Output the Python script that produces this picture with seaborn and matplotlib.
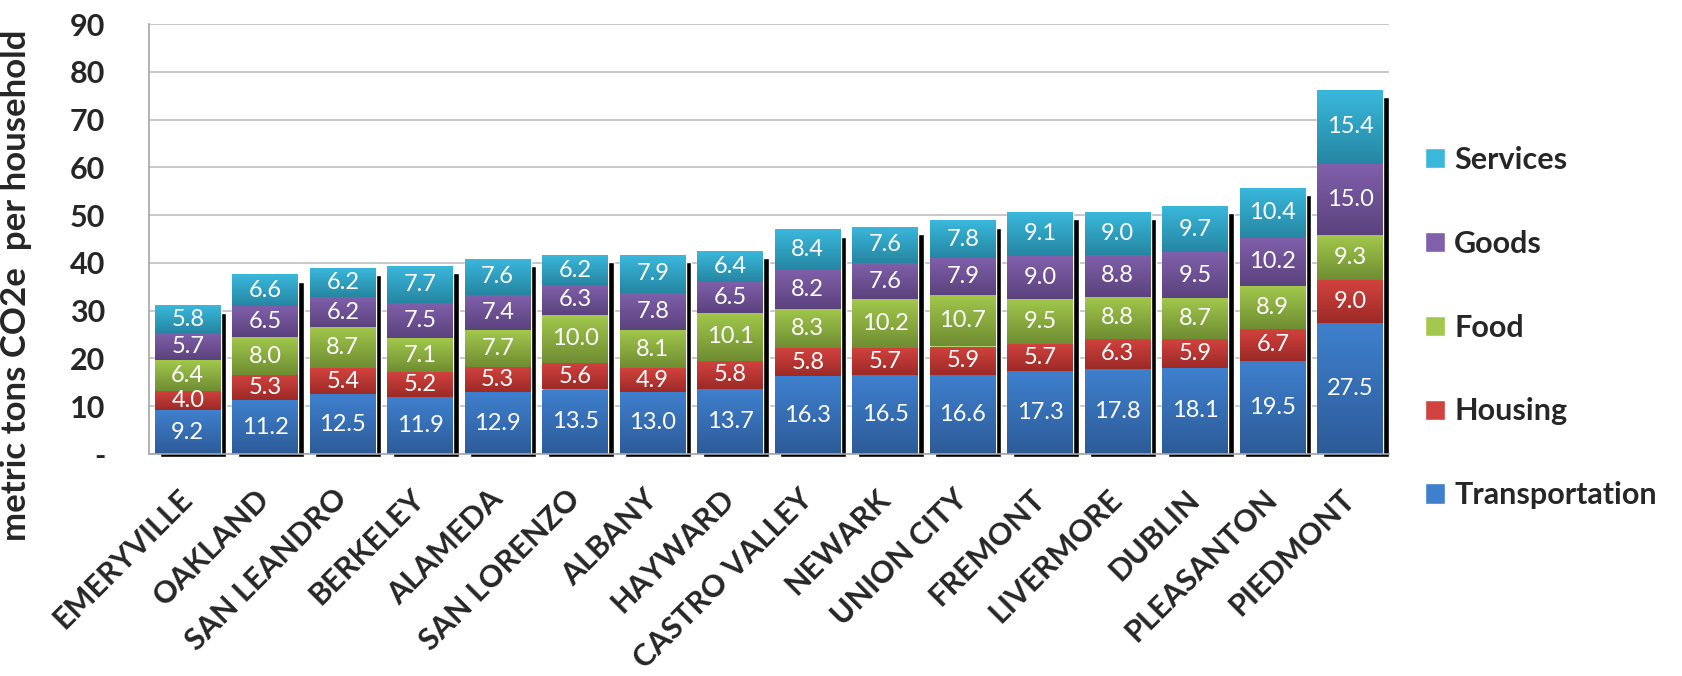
import numpy as np
import pandas as pd
import seaborn as sns
import matplotlib
matplotlib.use("Agg")
import matplotlib.pyplot as plt
from matplotlib.colors import LinearSegmentedColormap
from matplotlib.transforms import ScaledTranslation

cities = ["EMERYVILLE", "OAKLAND", "SAN LEANDRO", "BERKELEY", "ALAMEDA",
          "SAN LORENZO", "ALBANY", "HAYWARD", "CASTRO VALLEY", "NEWARK",
          "UNION CITY", "FREMONT", "LIVERMORE", "DUBLIN", "PLEASANTON", "PIEDMONT"]

transportation = [9.2, 11.2, 12.5, 11.9, 12.9, 13.5, 13.0, 13.7, 16.3, 16.5, 16.6, 17.3, 17.8, 18.1, 19.5, 27.5]
housing = [4.0, 5.3, 5.4, 5.2, 5.3, 5.6, 4.9, 5.8, 5.8, 5.7, 5.9, 5.7, 6.3, 5.9, 6.7, 9.0]
food = [6.4, 8.0, 8.7, 7.1, 7.7, 10.0, 8.1, 10.1, 8.3, 10.2, 10.7, 9.5, 8.8, 8.7, 8.9, 9.3]
goods = [5.7, 6.5, 6.2, 7.5, 7.4, 6.3, 7.8, 6.5, 8.2, 7.6, 7.9, 9.0, 8.8, 9.5, 10.2, 15.0]
services = [5.8, 6.6, 6.2, 7.7, 7.6, 6.2, 7.9, 6.4, 8.4, 7.6, 7.8, 9.1, 9.0, 9.7, 10.4, 15.4]

series = ["Transportation", "Housing", "Food", "Goods", "Services"]
y_ticks = [0, 10, 20, 30, 40, 50, 60, 70, 80, 90]
y_tick_labels = ["-", "10", "20", "30", "40", "50", "60", "70", "80", "90"]

# (top colour, bottom colour) of the vertical gradient in each segment
shades = {
    "Transportation": ("#3F80CE", "#2D5B98"),
    "Housing": ("#D2423E", "#9C2A27"),
    "Food": ("#A2C84C", "#6F8D32"),
    "Goods": ("#8060AB", "#5B427D"),
    "Services": ("#3AB8DC", "#2586A2"),
}

df = pd.DataFrame({"City": cities, "Transportation": transportation, "Housing": housing,
                   "Food": food, "Goods": goods, "Services": services})
totals = df[series].sum(axis=1).values

sns.set_style("white")
plt.rcParams["font.family"] = ["Lato", "DejaVu Sans"]

fig = plt.figure(figsize=(16.82, 6.76), dpi=100)
ax = fig.add_axes([149 / 1682, 222 / 676, 1240 / 1682, 430 / 676])

# drop shadow behind every stack
sns.barplot(x=df["City"], y=totals - 0.9, bottom=-0.6, color="black", width=0.85,
            saturation=1, errorbar=None, ax=ax, zorder=1.5)
shadow = ax.containers[0]
offset = ax.transData + ScaledTranslation(0.055, 0, fig.dpi_scale_trans)
for p in shadow.patches:
    p.set_transform(offset)
    p.set_clip_on(False)

bottom = np.zeros(len(cities))
segments = []
for name in series:
    vals = df[name].values
    sns.barplot(x=df["City"], y=vals, bottom=bottom, color=shades[name][0], width=0.85,
                saturation=1, errorbar=None, ax=ax, label=name, zorder=2)
    segments.append((name, ax.containers[-1]))
    bottom = bottom + vals

for name, cont in segments:
    top_c, bot_c = shades[name]
    cmap = LinearSegmentedColormap.from_list(name, [bot_c, top_c])
    for p in cont.patches:
        x0, y0, w, h = p.get_x(), p.get_y(), p.get_width(), p.get_height()
        grad = np.linspace(1, 0, 64).reshape(-1, 1)
        im = ax.imshow(grad, cmap=cmap, extent=(x0, x0 + w, y0, y0 + h), aspect="auto",
                       origin="upper", interpolation="bicubic", zorder=2.5)
        im.set_clip_path(p)
    ax.bar_label(cont, fmt="%.1f", label_type="center", color="white", fontsize=17, zorder=4)

if ax.get_legend() is not None:
    ax.get_legend().remove()

ax.set_xlim(-0.5, len(cities) - 0.5)
ax.set_ylim(0, 90)
ax.set_yticks(y_ticks)
ax.set_yticklabels(y_tick_labels, fontsize=22, fontweight="bold")
ax.set_xticks(range(len(cities)))
ax.set_xticklabels(cities, rotation=45, ha="right", va="center", rotation_mode="anchor",
                   fontsize=22, fontweight="bold")
ax.set_xticks(np.arange(-0.5, len(cities), 1), minor=True)
ax.tick_params(axis="x", which="major", length=0, pad=29)
ax.tick_params(axis="x", which="minor", length=7, color="#BFBFBF", width=1.2)
ax.tick_params(axis="y", length=8.5, color="#A6A6A6", width=1.2, pad=23)

ax.set_axisbelow(True)
ax.yaxis.grid(True, color="#BFBFBF", linewidth=1.2)
ax.xaxis.grid(False)
for s in ["top", "right"]:
    ax.spines[s].set_visible(False)
ax.spines["left"].set_color("#A6A6A6")
ax.spines["bottom"].set_color("#A6A6A6")
ax.spines["left"].set_linewidth(1.2)
ax.spines["bottom"].set_linewidth(1.2)

ax.set_xlabel("")
ax.set_ylabel("metric tons CO2e  per household", fontsize=25, fontweight="bold")
ax.yaxis.set_label_coords(-0.094, 0.393)

handles = [c for _, c in segments][::-1]
labels = [n for n, _ in segments][::-1]
fig.legend(handles, labels, loc="center left", bbox_to_anchor=(1425 / 1682, 0.5155),
           frameon=False, prop=dict(weight="bold", size=22), handlelength=0.65,
           handleheight=0.65, handletextpad=0.3, labelspacing=1.83, borderpad=0,
           borderaxespad=0)

fig.savefig("out.png", dpi=100)
